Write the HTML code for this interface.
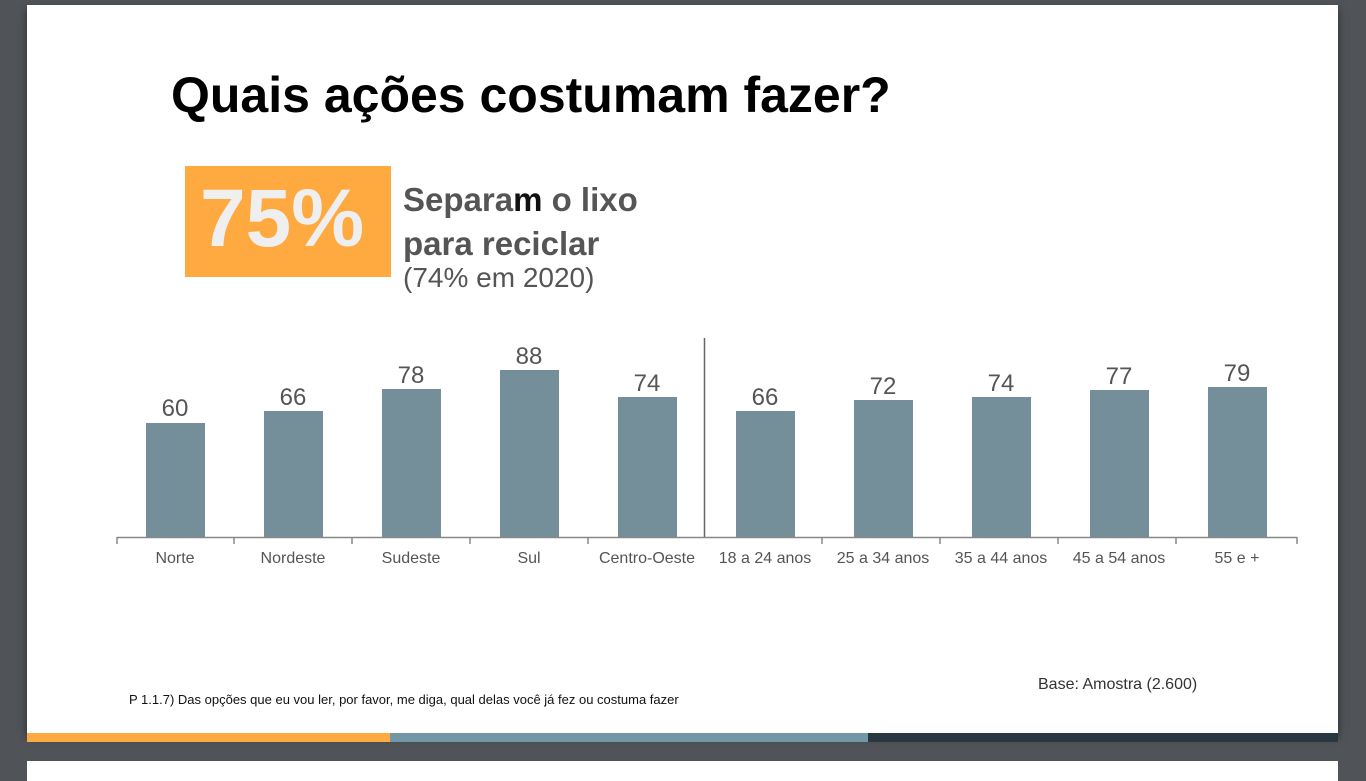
<!DOCTYPE html>
<html><head><meta charset="utf-8"><style>
body{margin:0;width:1366px;height:768px;background:#505458;position:relative;overflow:hidden;font-family:"Liberation Sans",sans-serif}
.slide{position:absolute;left:27px;top:5px;width:1311px;height:728px;background:#fff;box-shadow:0 4px 8px rgba(0,0,0,.5)}
.slide2{position:absolute;left:27px;top:761px;width:1311px;height:20px;background:#fff}
.bar{position:absolute;height:9px;top:733px}
.a{position:absolute;white-space:nowrap}
</style></head><body>
<div class="slide"></div><div class="slide2"></div>
<div class="bar" style="left:27px;width:363px;background:#ffaa41"></div>
<div class="bar" style="left:390px;width:478px;background:#7298a8"></div>
<div class="bar" style="left:868px;width:470px;background:#283840"></div>
<div class="a" style="left:171px;top:66px;font-size:50px;font-weight:bold;color:#000;letter-spacing:0px">Quais ações costumam fazer?</div>
<div class="a" style="left:185px;top:166px;width:206px;height:111px;background:#ffaa41"></div>
<div class="a" style="left:200px;top:172px;font-size:82px;font-weight:bold;color:#efefef;letter-spacing:0px">75%</div>
<div class="a" style="left:403px;top:178px;font-size:33px;font-weight:bold;color:#555;line-height:44px">Separa<span style="color:#111">m</span> o lixo<br>para reciclar</div>
<div class="a" style="left:403px;top:262px;font-size:28px;color:#555">(74% em 2020)</div>
<svg class="a" style="left:0;top:0" width="1366" height="768">
<g fill="#748e9a">
<rect x="146" y="423" width="59" height="114"/><rect x="264" y="411" width="59" height="126"/>
<rect x="382" y="389" width="59" height="148"/><rect x="500" y="370" width="59" height="167"/>
<rect x="618" y="397" width="59" height="140"/><rect x="736" y="411" width="59" height="126"/>
<rect x="854" y="400" width="59" height="137"/><rect x="972" y="397" width="59" height="140"/>
<rect x="1090" y="390" width="59" height="147"/><rect x="1208" y="387" width="59" height="150"/>
</g>
<line x1="117" y1="537.5" x2="1297" y2="537.5" stroke="#888" stroke-width="1.5"/>
<line x1="704.5" y1="338" x2="704.5" y2="537" stroke="#666" stroke-width="1.5"/>
<g stroke="#888" stroke-width="1.5">
<line x1="117" y1="537" x2="117" y2="544"/><line x1="234" y1="537" x2="234" y2="544"/><line x1="352" y1="537" x2="352" y2="544"/><line x1="470" y1="537" x2="470" y2="544"/><line x1="588" y1="537" x2="588" y2="544"/><line x1="822" y1="537" x2="822" y2="544"/><line x1="940" y1="537" x2="940" y2="544"/><line x1="1058" y1="537" x2="1058" y2="544"/><line x1="1176" y1="537" x2="1176" y2="544"/><line x1="1297" y1="537" x2="1297" y2="544"/>
</g>
<g font-size="24" fill="#555" text-anchor="middle" font-family="Liberation Sans">
<text x="175" y="416">60</text><text x="293" y="405">66</text><text x="411" y="383">78</text><text x="529" y="364">88</text><text x="647" y="391">74</text><text x="765" y="405">66</text><text x="883" y="394">72</text><text x="1001" y="391">74</text><text x="1119" y="384">77</text><text x="1237" y="381">79</text>
</g>
<g font-size="16" fill="#555" text-anchor="middle" font-family="Liberation Sans">
<text x="175" y="563">Norte</text><text x="293" y="563">Nordeste</text><text x="411" y="563">Sudeste</text><text x="529" y="563">Sul</text><text x="647" y="563">Centro-Oeste</text><text x="765" y="563">18 a 24 anos</text><text x="883" y="563">25 a 34 anos</text><text x="1001" y="563">35 a 44 anos</text><text x="1119" y="563">45 a 54 anos</text><text x="1237" y="563">55 e +</text>
</g>
</svg>
<div class="a" style="left:1038px;top:676px;font-size:16px;color:#333">Base: Amostra (2.600)</div>
<div class="a" style="left:129px;top:692px;font-size:13px;color:#111">P 1.1.7) Das opções que eu vou ler, por favor, me diga, qual delas você já fez ou costuma fazer</div>
</body></html>
